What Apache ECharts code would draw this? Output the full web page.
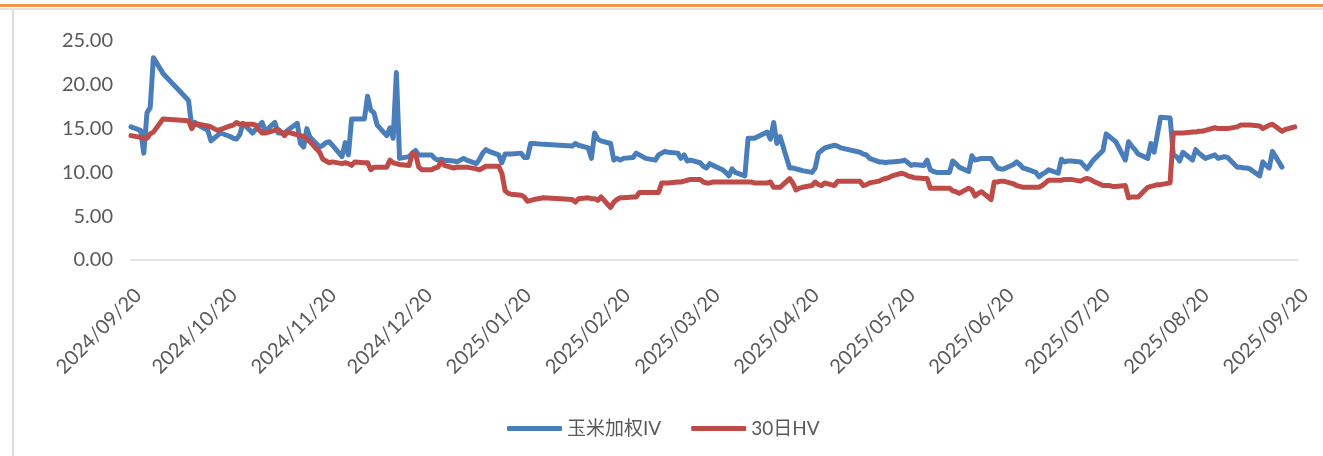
<!DOCTYPE html>
<html>
<head>
<meta charset="utf-8">
<script src="https://cdn.jsdelivr.net/npm/echarts@6.0.0/dist/echarts.min.js"></script>
<style>
html,body{margin:0;padding:0;background:#ffffff;}
#chart{width:1323px;height:456px;}
</style>
</head>
<body>
<div id="chart"></div>
<script>
// ---------- data ----------
const seriesNames = ['玉米加权IV', '30日HV'];

const tradeDates = [
  '2024-09-20','2024-09-23','2024-09-24','2024-09-25','2024-09-26','2024-09-27','2024-09-30',
  '2024-10-08','2024-10-09','2024-10-10','2024-10-11','2024-10-14','2024-10-15','2024-10-16','2024-10-17','2024-10-18','2024-10-21','2024-10-22','2024-10-23','2024-10-24','2024-10-25','2024-10-28','2024-10-29','2024-10-30','2024-10-31',
  '2024-11-01','2024-11-04','2024-11-05','2024-11-06','2024-11-07','2024-11-08','2024-11-11','2024-11-12','2024-11-13','2024-11-14','2024-11-15','2024-11-18','2024-11-19','2024-11-20','2024-11-21','2024-11-22','2024-11-25','2024-11-26','2024-11-27','2024-11-28','2024-11-29',
  '2024-12-02','2024-12-03','2024-12-04','2024-12-05','2024-12-06','2024-12-09','2024-12-10','2024-12-11','2024-12-12','2024-12-13','2024-12-16','2024-12-17','2024-12-18','2024-12-19','2024-12-20','2024-12-23','2024-12-24','2024-12-25','2024-12-26','2024-12-27','2024-12-30','2024-12-31',
  '2025-01-02','2025-01-03','2025-01-06','2025-01-07','2025-01-08','2025-01-09','2025-01-10','2025-01-13','2025-01-14','2025-01-15','2025-01-16','2025-01-17','2025-01-20','2025-01-21','2025-01-22','2025-01-23','2025-01-24','2025-01-27',
  '2025-02-05','2025-02-06','2025-02-07','2025-02-10','2025-02-11','2025-02-12','2025-02-13','2025-02-14','2025-02-17','2025-02-18','2025-02-19','2025-02-20','2025-02-21','2025-02-24','2025-02-25','2025-02-26','2025-02-27','2025-02-28',
  '2025-03-03','2025-03-04','2025-03-05','2025-03-06','2025-03-07','2025-03-10','2025-03-11','2025-03-12','2025-03-13','2025-03-14','2025-03-17','2025-03-18','2025-03-19','2025-03-20','2025-03-21','2025-03-24','2025-03-25','2025-03-26','2025-03-27','2025-03-28','2025-03-31',
  '2025-04-01','2025-04-02','2025-04-03','2025-04-07','2025-04-08','2025-04-09','2025-04-10','2025-04-11','2025-04-14','2025-04-15','2025-04-16','2025-04-17','2025-04-18','2025-04-21','2025-04-22','2025-04-23','2025-04-24','2025-04-25','2025-04-28','2025-04-29','2025-04-30',
  '2025-05-06','2025-05-07','2025-05-08','2025-05-09','2025-05-12','2025-05-13','2025-05-14','2025-05-15','2025-05-16','2025-05-19','2025-05-20','2025-05-21','2025-05-22','2025-05-23','2025-05-26','2025-05-27','2025-05-28','2025-05-29','2025-05-30',
  '2025-06-03','2025-06-04','2025-06-05','2025-06-06','2025-06-09','2025-06-10','2025-06-11','2025-06-12','2025-06-13','2025-06-16','2025-06-17','2025-06-18','2025-06-19','2025-06-20','2025-06-23','2025-06-24','2025-06-25','2025-06-26','2025-06-27','2025-06-30',
  '2025-07-01','2025-07-02','2025-07-03','2025-07-04','2025-07-07','2025-07-08','2025-07-09','2025-07-10','2025-07-11','2025-07-14','2025-07-15','2025-07-16','2025-07-17','2025-07-18','2025-07-21','2025-07-22','2025-07-23','2025-07-24','2025-07-25','2025-07-28','2025-07-29','2025-07-30','2025-07-31',
  '2025-08-01','2025-08-04','2025-08-05','2025-08-06','2025-08-07','2025-08-08','2025-08-11','2025-08-12','2025-08-13','2025-08-14','2025-08-15','2025-08-18','2025-08-19','2025-08-20','2025-08-21','2025-08-22','2025-08-25','2025-08-26','2025-08-27','2025-08-28','2025-08-29',
  '2025-09-01','2025-09-02','2025-09-03','2025-09-04','2025-09-05','2025-09-08','2025-09-09','2025-09-10','2025-09-11','2025-09-12','2025-09-15','2025-09-16','2025-09-17','2025-09-18','2025-09-19'
];

// 玉米加权IV (ends on 2025-09-15)
const ivValues = [
  15.2,14.8,12.2,16.8,17.4,23.1,21.3,
  18.2,15.2,15.7,15.4,14.8,13.6,13.9,14.2,14.5,14.1,13.9,13.8,14.3,15.6,14.5,14.9,15.3,15.7,
  14.7,15.7,14.5,14.5,14.5,14.8,15.6,13.3,12.9,15.0,14.0,12.9,13.1,13.4,13.5,13.1,11.8,13.4,12.0,16.1,16.1,
  16.1,18.7,17.1,16.8,15.4,14.2,15.1,13.9,21.4,11.6,11.8,12.2,12.5,12.0,12.0,12.0,11.6,11.4,11.5,11.4,11.3,11.2,
  11.6,11.4,11.0,11.5,12.2,12.6,12.4,12.0,11.1,12.1,12.1,12.1,12.2,11.7,11.7,13.3,13.3,13.2,
  13.0,13.3,13.1,12.8,11.6,14.5,13.8,13.6,13.3,11.4,11.6,11.4,11.6,11.7,12.2,12.0,11.8,11.6,
  11.4,12.0,12.2,12.4,12.3,12.2,11.6,12.0,11.3,11.4,11.1,10.7,10.5,11.0,10.8,10.3,10.0,9.6,10.4,10.0,9.6,
  13.9,13.9,13.9,14.6,13.8,15.7,13.3,14.1,10.5,10.5,10.4,10.3,10.2,10.0,10.5,12.2,12.5,12.8,13.1,13.0,12.8,
  12.3,12.1,12.0,11.6,11.2,11.2,11.1,11.2,11.2,11.3,11.4,11.1,10.8,10.9,10.8,11.4,10.3,10.1,10.0,
  10.0,11.3,11.0,10.6,10.1,11.9,11.4,11.5,11.6,11.6,11.0,10.5,10.4,10.4,10.9,11.2,10.9,10.5,10.4,10.0,
  9.5,9.8,10.0,10.3,9.9,11.5,11.2,11.3,11.3,11.2,10.8,10.4,10.9,11.4,12.5,14.4,14.1,13.8,13.5,11.4,13.5,13.0,12.6,
  12.1,11.6,13.3,12.3,14.3,16.3,16.2,12.0,11.8,11.3,12.3,11.4,12.6,12.2,11.9,11.6,12.0,11.6,11.7,11.8,11.7,
  10.6,10.6,10.5,10.5,10.4,9.6,11.2,10.8,10.5,12.4,10.6
];

// 30日HV (ends on 2025-09-19)
const hvValues = [
  14.2,14.0,13.9,13.9,14.4,14.6,16.1,
  15.9,15.0,15.6,15.5,15.3,15.2,15.0,14.8,14.9,15.3,15.4,15.7,15.5,15.5,15.5,15.4,14.9,14.5,
  14.5,14.8,14.9,14.6,14.2,14.6,14.3,14.2,14.1,13.8,13.5,12.3,11.5,11.3,11.1,11.2,11.0,11.1,11.0,10.8,11.2,
  11.1,11.1,10.3,10.6,10.6,10.6,11.4,11.1,11.0,10.9,10.8,12.2,12.1,10.6,10.3,10.3,10.5,10.6,11.2,10.8,10.5,10.6,
  10.6,10.6,10.4,10.3,10.5,10.7,10.7,10.7,9.9,7.9,7.6,7.5,7.4,7.2,6.7,6.8,6.9,7.1,
  6.9,6.6,7.0,7.1,7.0,7.0,6.8,7.2,6.0,6.6,6.9,7.1,7.1,7.2,7.2,7.7,7.7,7.7,
  7.7,7.7,8.8,8.8,8.8,8.9,8.9,9.0,9.1,9.2,9.2,8.9,8.8,8.8,8.9,8.9,8.9,8.9,8.9,8.9,8.9,
  8.9,8.9,8.8,8.8,8.9,8.3,8.3,8.3,9.3,8.8,8.0,8.2,8.3,8.5,8.9,8.6,8.5,8.8,8.5,9.0,9.0,
  9.0,8.5,8.6,8.8,9.0,9.2,9.3,9.4,9.6,9.9,9.8,9.6,9.5,9.4,9.3,9.3,8.2,8.2,8.2,
  8.2,7.9,7.8,7.6,8.2,8.0,7.3,7.6,7.8,6.9,8.9,8.9,9.0,9.0,8.7,8.5,8.4,8.3,8.3,8.3,
  8.3,8.5,8.8,9.1,9.1,9.1,9.2,9.2,9.2,9.0,9.2,9.3,9.2,9.0,8.5,8.5,8.5,8.4,8.4,8.5,7.1,7.2,7.2,
  7.2,8.3,8.4,8.5,8.6,8.6,8.8,14.5,14.5,14.5,14.5,14.6,14.6,14.7,14.7,14.8,15.1,15.0,15.0,15.0,15.0,
  15.2,15.4,15.4,15.4,15.4,15.3,15.0,15.2,15.4,15.5,14.7,14.9,15.0,15.1,15.2
];

const xTickLabels = [
  '2024-09-20','2024-10-20','2024-11-20','2024-12-20','2025-01-20','2025-02-20','2025-03-20',
  '2025-04-20','2025-05-20','2025-06-20','2025-07-20','2025-08-20','2025-09-20'
];
const yTicks = { min: 0, max: 25, interval: 5 };

// ---------- chart ----------
function toTs(s) {
  const p = s.split('-').map(Number);
  return Date.UTC(p[0], p[1] - 1, p[2]);
}
function fmtDate(val) {
  const d = new Date(val);
  const m = String(d.getUTCMonth() + 1).padStart(2, '0');
  const dd = String(d.getUTCDate()).padStart(2, '0');
  return d.getUTCFullYear() + '/' + m + '/' + dd;
}

const ivData = ivValues.map((v, i) => [toTs(tradeDates[i]), v]);
const hvData = hvValues.map((v, i) => [toTs(tradeDates[i]), v]);
const xTickTs = xTickLabels.map(toTs);

const FONT = 'Lato, "Noto Sans CJK SC", sans-serif';
const TXT = '#595959';

const chart = echarts.init(document.getElementById('chart'), null, { renderer: 'canvas' });

chart.setOption({
  animation: false,
  backgroundColor: '#ffffff',
  graphic: [
    { type: 'rect', left: 0, top: 4, shape: { width: 1323, height: 3 }, style: { fill: '#F79646' }, silent: true },
    { type: 'rect', left: 0, top: 8, shape: { width: 1323, height: 2 }, style: { fill: '#E3E3E3' }, silent: true },
    { type: 'rect', left: 12, top: 9, shape: { width: 2, height: 447 }, style: { fill: '#DCDCDC' }, silent: true }
  ],
  legend: {
    data: seriesNames,
    left: 502,
    top: 414,
    itemWidth: 55,
    itemHeight: 5,
    itemGap: 30,
    icon: 'roundRect',
    textStyle: { fontFamily: FONT, fontSize: 19, color: TXT }
  },
  grid: {
    left: 131, right: 25, top: 41, bottom: 196,
    containLabel: false, outerBoundsMode: 'none'
  },
  xAxis: {
    type: 'value',
    min: xTickTs[0],
    max: xTickTs[xTickTs.length - 1],
    axisLine: { show: true, onZero: false, lineStyle: { color: '#D9D9D9', width: 1.5 } },
    axisTick: { show: false },
    splitLine: { show: false },
    axisLabel: {
      customValues: xTickTs,
      formatter: fmtDate,
      rotate: 45,
      margin: 25,
      align: 'right',
      verticalAlign: 'top',
      fontFamily: FONT,
      fontSize: 20,
      color: TXT
    }
  },
  yAxis: {
    type: 'value',
    min: yTicks.min,
    max: yTicks.max,
    interval: yTicks.interval,
    axisLine: { show: false },
    axisTick: { show: false },
    splitLine: { show: false },
    axisLabel: {
      formatter: v => v.toFixed(2),
      margin: 18,
      fontFamily: FONT,
      fontSize: 20,
      color: TXT
    }
  },
  series: [
    {
      name: seriesNames[0], type: 'line', data: ivData,
      showSymbol: false, symbol: 'none',
      lineStyle: { color: '#4A7EBB', width: 5, cap: 'round', join: 'round' },
      itemStyle: { color: '#4A7EBB' }
    },
    {
      name: seriesNames[1], type: 'line', data: hvData,
      showSymbol: false, symbol: 'none',
      lineStyle: { color: '#BE4B48', width: 5, cap: 'round', join: 'round' },
      itemStyle: { color: '#BE4B48' }
    }
  ]
});
</script>
</body>
</html>
